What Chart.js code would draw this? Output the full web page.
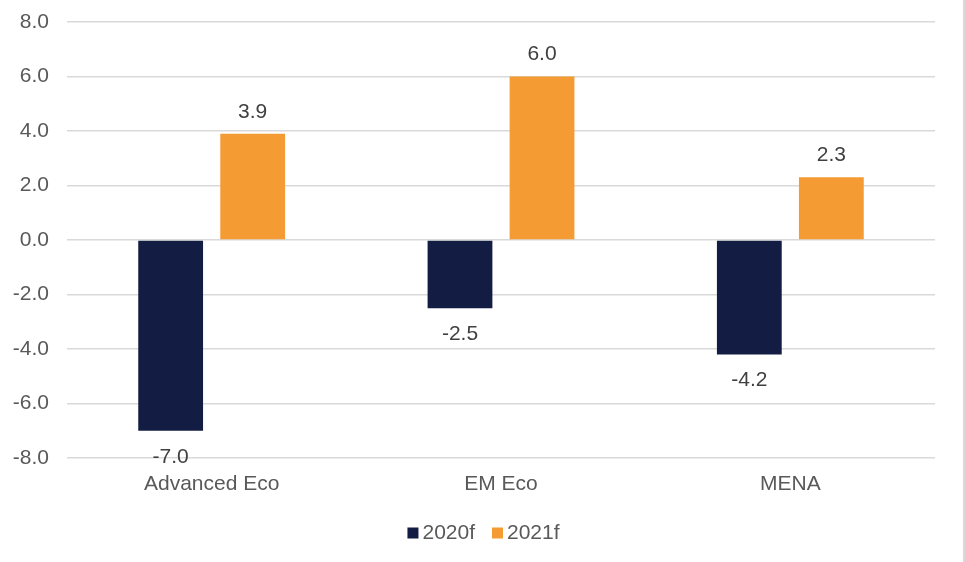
<!DOCTYPE html>
<html>
<head>
<meta charset="utf-8">
<script src="https://cdn.jsdelivr.net/npm/chart.js@4"></script>
<style>
  html, body { margin: 0; padding: 0; background: #fff; }
  #wrap { width: 963px; height: 562px; border-right: 2px solid #d9d9d9; }
</style>
</head>
<body>
<div id="wrap"><canvas id="growthChart" width="963" height="562"></canvas></div>
<script>
const categories = ["Advanced Eco", "EM Eco", "MENA"];
const seriesNames = ["2020f", "2021f"];
const values2020 = [-7.0, -2.5, -4.2];
const values2021 = [3.9, 6.0, 2.3];
const colors = ["#131c42", "#f49b33"];

const fontFamily = '"Liberation Sans", Arial, sans-serif';

// value labels above / below each bar
const barLabels = {
    id: 'barLabels',
    afterDatasetsDraw(chart) {
        const ctx = chart.ctx;
        ctx.save();
        ctx.font = '21px ' + fontFamily;
        ctx.fillStyle = '#404040';
        ctx.textAlign = 'center';
        ctx.textBaseline = 'middle';
        chart.data.datasets.forEach((ds, i) => {
            chart.getDatasetMeta(i).data.forEach((bar, j) => {
                const v = ds.data[j];
                const y = v >= 0 ? bar.y - 22 : bar.y + 26;
                ctx.fillText(v.toFixed(1), bar.x, y);
            });
        });
        ctx.restore();
    }
};

// legend drawn by hand so the box/text spacing matches
const bottomLegend = {
    id: 'bottomLegend',
    afterDraw(chart) {
        const ctx = chart.ctx;
        ctx.save();
        ctx.font = '21px ' + fontFamily;
        ctx.textBaseline = 'middle';
        const box = 11, gap = 4, spacing = 17, cy = 533;
        const items = chart.data.datasets.map(ds => ({ text: ds.label, color: ds.backgroundColor, w: ctx.measureText(ds.label).width }));
        let total = items.reduce((s, it) => s + box + gap + it.w, 0) + spacing * (items.length - 1);
        let x = chart.width / 2 - total / 2 + 2;
        items.forEach(it => {
            ctx.fillStyle = it.color;
            ctx.fillRect(x, cy - box / 2, box, box);
            x += box + gap;
            ctx.fillStyle = '#595959';
            ctx.fillText(it.text, x, cy);
            x += it.w + spacing;
        });
        ctx.restore();
    }
};

new Chart(document.getElementById('growthChart').getContext('2d'), {
    type: 'bar',
    data: {
        labels: categories,
        datasets: [
            { label: seriesNames[0], data: values2020, backgroundColor: colors[0] },
            { label: seriesNames[1], data: values2021, backgroundColor: colors[1] }
        ]
    },
    options: {
        responsive: false,
        animation: false,
        categoryPercentage: 0.567,
        barPercentage: 0.79,
        layout: { padding: { top: 22, right: 28, left: 0, bottom: 59 } },
        plugins: {
            tooltip: { enabled: false },
            legend: { display: false }
        },
        scales: {
            x: {
                grid: { display: false, drawTicks: false },
                border: { display: false },
                afterFit: s => { s.height = 45; s.paddingLeft = 0; s.paddingRight = 0; },
                ticks: {
                    color: '#595959',
                    padding: 14,
                    font: { family: fontFamily, size: 21 }
                }
            },
            y: {
                min: -8,
                max: 8,
                afterFit: s => { s.width = 67; s.paddingTop = 0; s.paddingBottom = 0; },
                grid: { color: '#d9d9d9', lineWidth: 1.5, drawTicks: false },
                border: { display: false },
                ticks: {
                    stepSize: 2,
                    padding: 18,
                    color: '#595959',
                    font: { family: fontFamily, size: 21 },
                    callback: v => v.toFixed(1)
                }
            }
        }
    },
    plugins: [barLabels, bottomLegend]
});
</script>
</body>
</html>
